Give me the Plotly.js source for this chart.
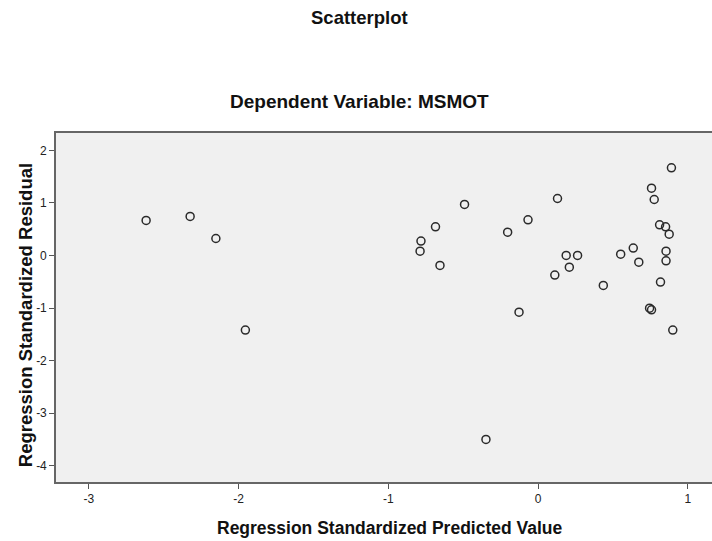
<!DOCTYPE html>
<html>
<head>
<meta charset="utf-8">
<script src="https://cdn.plot.ly/plotly-3.0.1.min.js"></script>
<style>html,body{margin:0;padding:0;background:#fff;overflow:hidden;}</style>
</head>
<body>
<div id="chart" style="width:712px;height:541px;"></div>
<script>
var predicted = [-2.618, -2.324, -2.152, -1.955, -0.782, -0.788, -0.685, -0.655, -0.491, -0.348,
  -0.203, -0.127, -0.067, 0.112, 0.130, 0.188, 0.209, 0.264, 0.436, 0.552,
  0.636, 0.673, 0.745, 0.758, 0.758, 0.776, 0.812, 0.818, 0.852, 0.855,
  0.855, 0.876, 0.891, 0.900];
var residual = [0.666, 0.742, 0.323, -1.42, 0.273, 0.082, 0.545, -0.190, 0.970, -3.50,
  0.444, -1.078, 0.678, -0.374, 1.084, 0.0, -0.222, 0.0, -0.571, 0.025,
  0.140, -0.127, -1.002, -1.034, 1.281, 1.065, 0.583, -0.507, 0.545, 0.082,
  -0.101, 0.406, 1.668, -1.420];
var xTicks = [-3, -2, -1, 0, 1];
var yTicks = [-4, -3, -2, -1, 0, 1, 2];
var mainTitle = "Scatterplot";
var subTitle = "Dependent Variable: MSMOT";
var xTitle = "Regression Standardized Predicted Value";
var yTitle = "Regression Standardized Residual";

var trace = {
  x: predicted, y: residual, type: 'scatter', mode: 'markers',
  marker: {symbol: 'circle-open', size: 8, color: '#2a2a2a', line: {width: 1.5, color: '#2a2a2a'}},
  hoverinfo: 'x+y'
};
var axisFont = {family: 'Arial, "Liberation Sans", sans-serif', size: 12, color: '#222'};
var boldFont = function(sz){ return {family: 'Arial, "Liberation Sans", sans-serif', size: sz, color: '#111', weight: 'bold'}; };
var layout = {
  width: 712, height: 541,
  margin: {l: 56, r: 0, t: 133, b: 59, pad: 0},
  paper_bgcolor: '#ffffff', plot_bgcolor: '#f0f0f0',
  showlegend: false,
  xaxis: {range: [-3.22, 1.162], tickvals: xTicks, ticktext: xTicks.map(String),
    showgrid: false, zeroline: false, showline: true, linecolor: '#666', linewidth: 1.8,
    mirror: true, ticks: 'outside', ticklen: 5, tickcolor: '#555', tickfont: axisFont},
  yaxis: {range: [-4.31, 2.33], tickvals: yTicks, ticktext: yTicks.map(String),
    showgrid: false, zeroline: false, showline: true, linecolor: '#666', linewidth: 1.8,
    ticks: 'outside', ticklen: 5, tickcolor: '#555', tickfont: axisFont},
  annotations: [
    {text: mainTitle, xref: 'paper', yref: 'paper', x: 0.462, y: 1.332, xanchor: 'center', yanchor: 'middle', showarrow: false, font: boldFont(18.5)},
    {text: subTitle, xref: 'paper', yref: 'paper', x: 0.462, y: 1.089, xanchor: 'center', yanchor: 'middle', showarrow: false, font: boldFont(19)},
    {text: xTitle, xref: 'paper', yref: 'paper', x: 0.509, y: -0.132, xanchor: 'center', yanchor: 'middle', showarrow: false, font: boldFont(17.5)},
    {text: yTitle, xref: 'paper', yref: 'paper', x: -0.047, y: 0.4785, xanchor: 'center', yanchor: 'middle', showarrow: false, textangle: -90, font: boldFont(18.5)}
  ]
};
Plotly.newPlot('chart', [trace], layout, {displayModeBar: false, staticPlot: true});
</script>
</body>
</html>
